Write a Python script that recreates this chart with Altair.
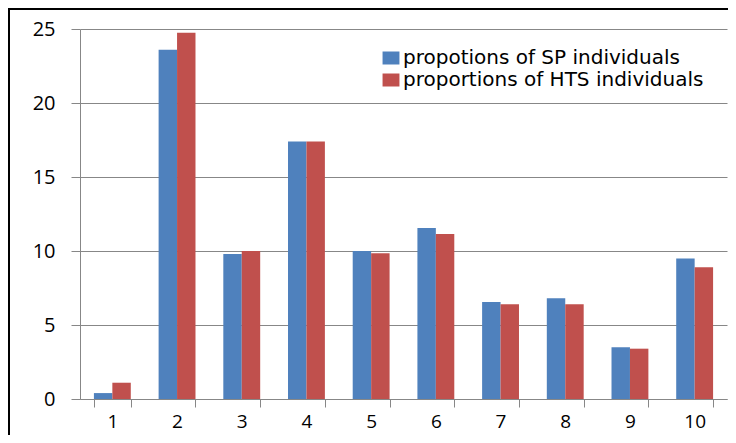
import altair as alt
import pandas as pd

categories = [str(i) for i in range(1, 11)]
sp_values = [0.4, 23.6, 9.8, 17.4, 10.0, 11.55, 6.55, 6.8, 3.5, 9.5]
hts_values = [1.1, 24.75, 10.0, 17.4, 9.85, 11.15, 6.4, 6.4, 3.4, 8.9]
series_names = ["propotions of SP individuals", "proportions of HTS individuals"]
series_colors = ["#4F81BD", "#C0504D"]
y_ticks = [0, 5, 10, 15, 20, 25]

rows = []
for c, a, b in zip(categories, sp_values, hts_values):
    rows.append({"cat": c, "series": series_names[0], "value": a})
    rows.append({"cat": c, "series": series_names[1], "value": b})
df = pd.DataFrame(rows)

AXIS_FONT = "Open Sans"
LEGEND_FONT = "DejaVu Sans"
GRAY = "#878787"

bars = alt.Chart(df).mark_bar().encode(
    x=alt.X("cat:N", sort=categories, title=None,
            scale=alt.Scale(paddingInner=0.43, paddingOuter=0.215),
            axis=alt.Axis(labelAngle=0, tickBand="extent", domainColor=GRAY,
                          tickColor=GRAY, tickSize=8, labelPadding=5,
                          labelFont=AXIS_FONT, labelFontSize=19,
                          labelColor="#000000", grid=False)),
    xOffset=alt.XOffset("series:N", sort=series_names),
    y=alt.Y("value:Q", title=None,
            scale=alt.Scale(domain=[0, 25], nice=False),
            axis=alt.Axis(values=y_ticks, domainColor=GRAY, tickColor=GRAY,
                          tickSize=9, labelPadding=16, labelFont=AXIS_FONT,
                          labelFontSize=20, labelColor="#000000",
                          grid=True, gridColor=GRAY, gridWidth=1)),
    color=alt.Color("series:N", sort=series_names,
                    scale=alt.Scale(domain=series_names, range=series_colors),
                    legend=alt.Legend(title=None, orient="none", legendX=301,
                                      legendY=19, labelFont=LEGEND_FONT,
                                      labelFontSize=20, labelColor="#000000",
                                      labelLimit=500,
                                      symbolType="M-1.3,-1H1.3V1H-1.3Z",
                                      symbolSize=169, symbolStrokeWidth=0,
                                      symbolOpacity=1, labelOffset=2,
                                      rowPadding=2)),
)

frame_left = alt.Chart(pd.DataFrame({"d": [0]})).mark_rule(
    color="#000000", strokeWidth=2, clip=False
).encode(x=alt.value(-71), y=alt.value(-21), y2=alt.value(500))

frame_top = alt.Chart(pd.DataFrame({"d": [0]})).mark_rule(
    color="#000000", strokeWidth=2, clip=False
).encode(x=alt.value(-72), x2=alt.value(800), y=alt.value(-20))

chart = alt.layer(bars, frame_left, frame_top).properties(
    width=647, height=370,
    autosize=alt.AutoSizeParams(type="none"),
    padding={"left": 72, "top": 21, "right": 1, "bottom": 36},
).configure_view(stroke=None)

chart.save("out.html", embed_options={"renderer": "svg", "actions": False})
